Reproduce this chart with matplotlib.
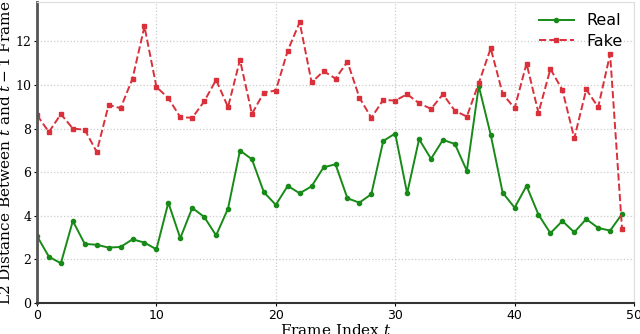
import matplotlib
matplotlib.use('Agg')
import matplotlib.pyplot as plt
import numpy as np

# per-frame L2 distances
real = [3.07, 2.12, 1.82, 3.76, 2.71, 2.67, 2.54, 2.57, 2.92, 2.77,
        2.46, 4.60, 2.97, 4.36, 3.95, 3.10, 4.33, 6.99, 6.59, 5.08,
        4.50, 5.37, 5.03, 5.35, 6.22, 6.36, 4.80, 4.60, 4.99, 7.43,
        7.77, 5.03, 7.51, 6.61, 7.48, 7.29, 6.06, 9.95, 7.71, 5.06,
        4.37, 5.37, 4.05, 3.20, 3.76, 3.24, 3.85, 3.44, 3.32, 4.08]
fake = [8.61, 7.84, 8.66, 8.00, 7.94, 6.93, 9.08, 8.93, 10.29, 12.68,
        9.91, 9.39, 8.52, 8.49, 9.24, 10.23, 8.98, 11.15, 8.67, 9.65,
        9.74, 11.57, 12.87, 10.11, 10.63, 10.29, 11.06, 9.42, 8.49, 9.31,
        9.28, 9.57, 9.16, 8.90, 9.57, 8.81, 8.55, 10.08, 11.68, 9.59,
        8.93, 10.98, 8.72, 10.73, 9.77, 7.55, 9.79, 8.98, 11.41, 3.38]
frames = np.arange(len(real))

plt.rcParams['mathtext.fontset'] = 'dejavuserif'

fig = plt.figure(figsize=(6.4, 3.34), dpi=100)
ax = fig.add_axes([37 / 640, 31 / 334, 597 / 640, 301 / 334])

ax.plot(frames, real, color='#178a17', marker='o', markersize=3, linewidth=1.4, label='Real')
ax.plot(frames, fake, color='#d9303a', marker='s', markersize=3, linewidth=1.4,
        linestyle='--', label='Fake')

ax.set_xlim(0, 50)
ax.set_ylim(0, 13.8)
ax.set_xticks([0, 10, 20, 30, 40, 50])
ax.set_yticks([0, 2, 4, 6, 8, 10, 12])
ax.grid(True, linestyle=':', color='#cccccc', linewidth=0.9)
ax.set_axisbelow(True)

for lab in ax.get_yticklabels():
    lab.set_family('DejaVu Serif')
ax.tick_params(axis='both', labelsize=9, length=2, pad=2)

ax.spines['left'].set_linewidth(2)
ax.spines['left'].set_color('#555555')
ax.spines['bottom'].set_linewidth(1.5)
ax.spines['bottom'].set_color('#333333')
for s in ['top', 'right']:
    ax.spines[s].set_color('#dddddd')
    ax.spines[s].set_linewidth(0.8)

ax.set_xlabel('Frame Index $t$', family='DejaVu Serif', fontsize=11, labelpad=1)
ax.set_ylabel('L2 Distance Between $t$ and $t-1$ Frame', family='DejaVu Serif',
              fontsize=11, labelpad=2)

ax.legend(loc='upper right', frameon=False, fontsize=11.5, handlelength=2.2,
          labelspacing=0.35, borderaxespad=0.3)

fig.savefig('out.png', dpi=100)
